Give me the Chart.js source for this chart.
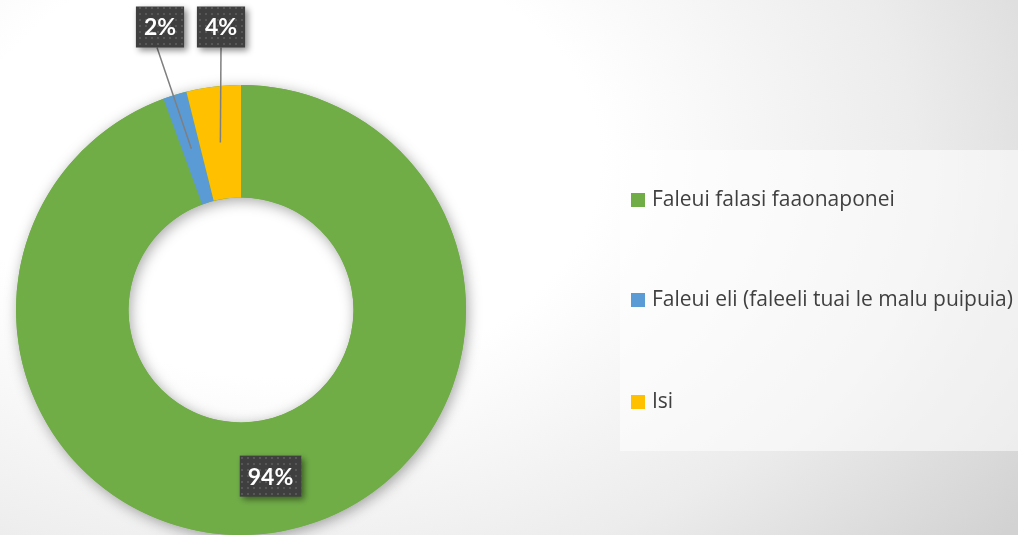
<!DOCTYPE html>
<html>
<head>
<meta charset="utf-8">
<script src="https://cdn.jsdelivr.net/npm/chart.js@4/dist/chart.umd.min.js"></script>
<style>
  html, body { margin: 0; padding: 0; }
  body {
    width: 1018px; height: 535px; overflow: hidden;
    background: radial-gradient(ellipse 900px 620px at 28% 30%, #ffffff 35%, #ececec 70%, #d2d2d2 100%);
  }
  #wrap { position: relative; width: 1018px; height: 535px; }
</style>
</head>
<body>
<div id="wrap"><canvas id="ringChart"></canvas></div>
<script>
// ── Data ──
const categories = ['Faleui falasi faaonaponei', 'Faleui eli (faleeli tuai le malu puipuia)', 'Isi'];
const shares = [94.4, 1.7, 3.9];
const shareLabels = shares.map(v => Math.round(v) + '%');
const sliceColors = ['#70ad47', '#5b9bd5', '#ffc000'];

const FONT = '"Open Sans", Lato, sans-serif';

// dark dotted fill used by the value boxes
function makeDotPattern(ctx) {
  const c = document.createElement('canvas');
  c.width = 6; c.height = 6;
  const g = c.getContext('2d');
  g.fillStyle = '#3f3f3f';
  g.fillRect(0, 0, 6, 6);
  g.fillStyle = '#575757';
  g.fillRect(1, 1, 2, 2);
  return ctx.createPattern(c, 'repeat');
}

// soft shadow under the whole ring
const ringShadow = {
  id: 'ringShadow',
  beforeDatasetsDraw(chart) {
    const arc = chart.getDatasetMeta(0).data[0];
    if (!arc) return;
    const { x, y, innerRadius, outerRadius } = arc.getProps(['x', 'y', 'innerRadius', 'outerRadius'], true);
    const ctx = chart.ctx;
    ctx.save();
    ctx.shadowColor = 'rgba(0,0,0,0.35)';
    ctx.shadowBlur = 14;
    ctx.shadowOffsetX = 2;
    ctx.shadowOffsetY = 3;
    ctx.beginPath();
    ctx.arc(x, y, outerRadius, 0, Math.PI * 2);
    ctx.arc(x, y, innerRadius, 0, Math.PI * 2, true);
    ctx.fillStyle = sliceColors[0];
    ctx.fill('evenodd');
    ctx.restore();
  }
};

// value boxes (with leader lines for the thin slices)
const valueBoxes = {
  id: 'valueBoxes',
  afterDatasetsDraw(chart, args, opts) {
    const ctx = chart.ctx;
    const pattern = makeDotPattern(ctx);
    const meta = chart.getDatasetMeta(0);
    meta.data.forEach((arc, i) => {
      const p = arc.getProps(['x', 'y', 'startAngle', 'endAngle', 'innerRadius', 'outerRadius'], true);
      const mid = (p.startAngle + p.endAngle) / 2;
      const r = (p.innerRadius + p.outerRadius) / 2;
      const ax = p.x + Math.cos(mid) * r;
      const ay = p.y + Math.sin(mid) * r;
      const callout = opts.callouts[i];
      const bx = callout ? callout.x : ax;
      const by = callout ? callout.y : ay;

      ctx.save();
      ctx.font = 'bold 23px Lato, sans-serif';
      const tw = ctx.measureText(shareLabels[i]).width;
      const w = tw + 16, h = 41;

      if (callout) {
        ctx.strokeStyle = '#7f7f7f';
        ctx.lineWidth = 1.5;
        ctx.beginPath();
        ctx.moveTo(bx + (callout.dx || 0), by + h / 2);
        ctx.lineTo(ax, ay);
        ctx.stroke();
      }

      ctx.shadowColor = 'rgba(0,0,0,0.45)';
      ctx.shadowBlur = 6;
      ctx.shadowOffsetX = 3;
      ctx.shadowOffsetY = 3;
      ctx.fillStyle = pattern;
      ctx.fillRect(bx - w / 2, by - h / 2, w, h);
      ctx.shadowColor = 'transparent';

      ctx.fillStyle = '#ffffff';
      ctx.textAlign = 'center';
      ctx.textBaseline = 'middle';
      ctx.fillText(shareLabels[i], bx, by + 1);
      ctx.restore();
    });
  }
};

// legend panel on the right
const sideLegend = {
  id: 'sideLegend',
  afterDraw(chart, args, opts) {
    const ctx = chart.ctx;
    ctx.save();
    ctx.fillStyle = 'rgba(255,255,255,0.55)';
    ctx.fillRect(opts.left, opts.top, opts.width, opts.height);
    ctx.font = '21px ' + FONT;
    ctx.textBaseline = 'middle';
    categories.forEach((name, i) => {
      const cy = opts.rows[i];
      ctx.fillStyle = sliceColors[i];
      ctx.fillRect(opts.left + 11, cy - 7, 14, 14);
      ctx.fillStyle = '#404040';
      ctx.fillText(name, opts.left + 32, cy);
    });
    ctx.restore();
  }
};

new Chart(document.getElementById('ringChart'), {
  type: 'doughnut',
  data: {
    labels: categories,
    datasets: [{
      data: shares,
      backgroundColor: sliceColors,
      borderWidth: 0,
      hoverOffset: 0,
    }],
  },
  options: {
    responsive: true,
    maintainAspectRatio: false,
    animation: false,
    cutout: '50%',
    layout: { padding: { left: 16, top: 85, right: 552, bottom: 0 } },
    plugins: {
      legend: { display: false },
      tooltip: { enabled: false },
      valueBoxes: {
        callouts: [null, { x: 160, y: 27, dx: -3 }, { x: 221, y: 27 }],
      },
      sideLegend: { left: 620, top: 150, width: 400, height: 301, rows: [200, 300, 402] },
    },
  },
  plugins: [ringShadow, valueBoxes, sideLegend],
});
</script>
</body>
</html>
